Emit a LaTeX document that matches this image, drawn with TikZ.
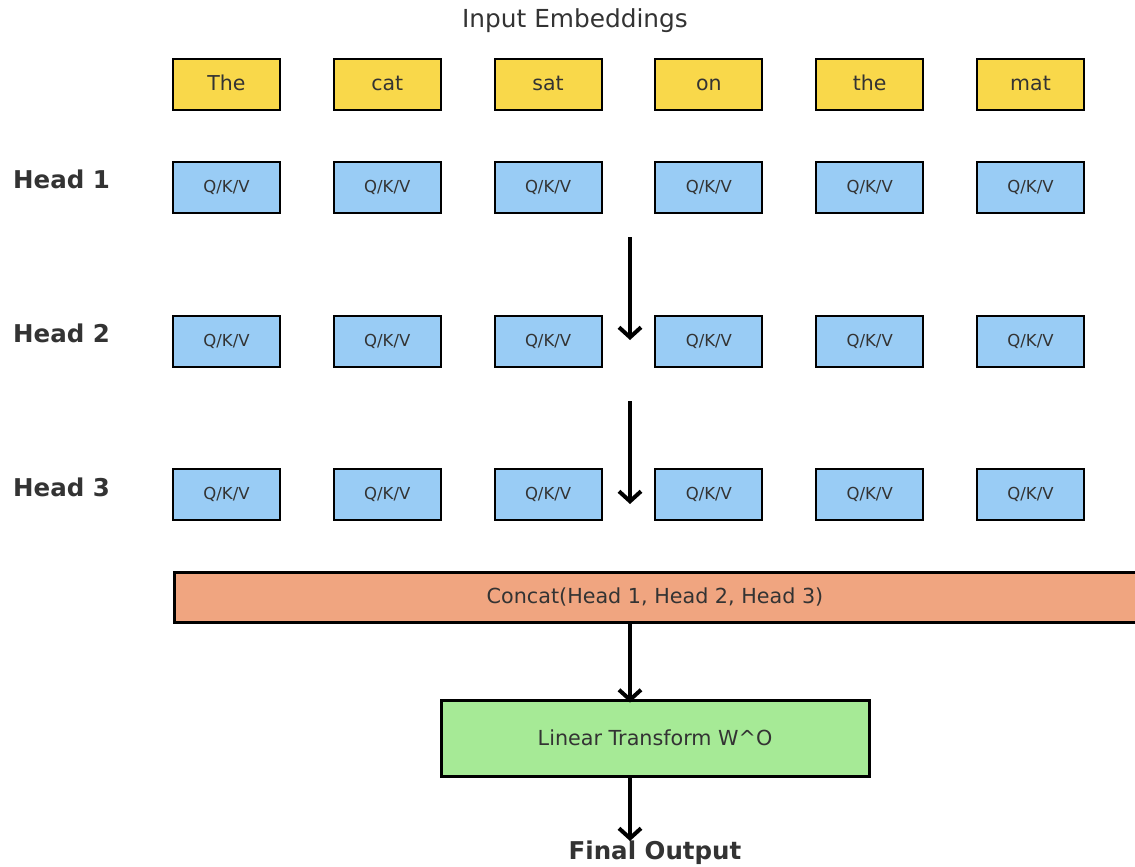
\documentclass[tikz,border=0pt]{standalone}
\usepackage{fontspec}
\setmainfont{DejaVu Sans}
\usetikzlibrary{arrows.meta}
\definecolor{tokfill}{RGB}{249,216,74}
\definecolor{qkvfill}{RGB}{153,204,245}
\definecolor{catfill}{RGB}{240,165,128}
\definecolor{linfill}{RGB}{166,234,150}
\definecolor{txt}{RGB}{51,51,51}
\tikzset{
  tokbox/.style={draw=black, line width=2pt, fill=tokfill, minimum width=107pt, minimum height=51pt, inner sep=0pt, text=txt, text height=15pt, text depth=4pt, font=\fontsize{20.5}{24}\selectfont},
  qkvbox/.style={draw=black, line width=2pt, fill=qkvfill, minimum width=107pt, minimum height=51pt, inner sep=0pt, text=txt, font=\fontsize{16.5}{20}\selectfont},
  headlbl/.style={anchor=west, inner sep=0pt, text=txt, font=\fontsize{24.5}{28}\selectfont\bfseries},
  bigarrow/.style={line width=4.5pt, -{Straight Barb[length=10pt, width=22pt, line width=4pt]}},
}
\begin{document}
\begin{tikzpicture}[x=1pt, y=-1pt]
\useasboundingbox (0,0) rectangle (1135,867);
\clip (0,0) rectangle (1135,867);
\node[text=txt, font=\fontsize{24.8}{28}\selectfont] (title) at (575,21) {Input Embeddings};
\foreach \w [count=\i] in {The,cat,sat,on,the,mat} {
  \pgfmathsetmacro{\cx}{226.5+160.8*(\i-1)}
  \node[tokbox] (tok\i) at (\cx,84.5) {\w};
  \node[qkvbox] (qa\i) at (\cx,187.5) {Q/K/V};
  \node[qkvbox] (qb\i) at (\cx,341.5) {Q/K/V};
  \node[qkvbox] (qc\i) at (\cx,494.5) {Q/K/V};
}
\node[headlbl] (h1) at (13,179) {Head 1};
\node[headlbl] (h2) at (13,333) {Head 2};
\node[headlbl] (h3) at (13,487) {Head 3};
\node[draw=black, line width=3pt, fill=catfill, minimum width=980pt, minimum height=50pt, inner sep=0pt, anchor=west] (concat) at (172.5,597) {};
\node[text=txt, font=\fontsize{20.7}{24}\selectfont] (concatlbl) at (655,597) {Concat(Head 1, Head 2, Head 3)};
\node[draw=black, line width=3pt, fill=linfill, minimum width=428pt, minimum height=76pt, inner sep=0pt, text=txt, font=\fontsize{20.7}{24}\selectfont] (lin) at (655,738) {Linear Transform W\^{}O};
\node[text=txt, font=\fontsize{24.5}{28}\selectfont\bfseries] (final) at (655,853) {Final Output};
\coordinate (a1s) at (630,237);
\coordinate (a1e) at (630,340);
\coordinate (a2s) at (630,401);
\coordinate (a2e) at (630,504);
\draw[bigarrow] (a1s) -- (a1e);
\draw[bigarrow] (a2s) -- (a2e);
\draw[bigarrow] (concat.south -| a1s) -- ([yshift=-4pt]lin.north -| a1s);
\draw[bigarrow] (lin.south -| a1s) -- (630,841);
\end{tikzpicture}
\end{document}
